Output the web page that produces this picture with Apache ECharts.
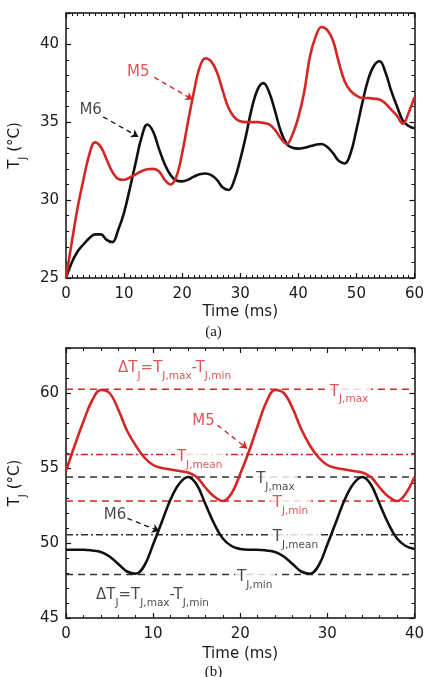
<!DOCTYPE html>
<html>
<head>
<meta charset="utf-8">
<script src="https://cdn.jsdelivr.net/npm/echarts@6/dist/echarts.min.js"></script>
<style>
html, body { margin: 0; padding: 0; background: #fff; }
#chart { width: 427px; height: 677px; }
</style>
</head>
<body>
<div id="chart"></div>
<script>
// (a) start-up, 0-60 ms
const timeA = [0,1,2,3,4,5,6,7,8,9,10,11,12,13,14,15,16,17,18,19,20,21,22,23,24,25,26,27,28,29,30,
  31,32,33,34,35,36,37,38,39,40,41,42,43,44,45,46,47,48,49,50,51,52,53,54,55,56,57,58,59,60];
const m5A = [25.0,27.3,29.5,31.3,32.9,33.7,33.4,32.6,31.8,31.35,31.3,31.45,31.65,31.85,31.97,32.0,31.85,31.3,31.0,31.5,
  33.0,35.0,36.9,38.5,39.1,38.9,38.2,37.0,35.9,35.3,35.05,35.0,35.0,35.0,34.95,34.85,34.5,33.95,33.6,34.2,
  35.3,36.9,39.2,40.5,41.1,40.9,40.2,38.8,37.6,37.0,36.7,36.55,36.55,36.5,36.45,36.2,35.8,35.4,34.9,35.6,36.6];
const m6A = [25.0,26.0,26.7,27.15,27.55,27.8,27.8,27.45,27.3,28.1,29.2,30.75,32.4,34.0,34.85,34.4,33.3,32.3,31.6,31.25,
  31.2,31.3,31.5,31.65,31.7,31.6,31.3,30.8,30.65,31.3,32.6,34.15,35.9,37.1,37.5,36.9,35.7,34.4,33.6,33.35,
  33.3,33.35,33.45,33.55,33.6,33.4,33.0,32.5,32.35,33.0,34.5,36.2,37.7,38.6,38.9,38.2,37.0,36.0,35.1,34.75,34.6];

// (b) steady state, 0-40 ms
const timeB = [0,1,2,3,4,5,6,7,8,9,10,11,12,13,14,15,16,17,18,19,20,
  21,22,23,24,25,26,27,28,29,30,31,32,33,34,35,36,37,38,39,40];
const m5B = [54.8,56.5,58.1,59.5,60.2,60.0,58.9,57.5,56.5,55.7,55.2,55.0,54.9,54.8,54.7,54.4,53.7,53.1,52.8,53.3,
  54.6,56.1,57.8,59.4,60.2,60.0,59.0,57.6,56.5,55.7,55.2,55.0,54.9,54.8,54.7,54.4,53.7,53.1,52.8,53.3,54.4];
const m6B = [49.55,49.55,49.55,49.5,49.4,49.1,48.6,48.1,47.95,48.5,49.9,51.4,52.9,53.95,54.4,53.9,52.6,51.3,50.3,49.8,
  49.6,49.55,49.55,49.5,49.4,49.1,48.6,48.1,47.95,48.5,49.9,51.4,52.9,53.95,54.4,53.9,52.6,51.3,50.3,49.8,49.6];

// T_J levels in (b): max, mean, min
const levelSub = ['J,max', 'J,mean', 'J,min'];
const m5Level = [60.25, 55.9, 52.8];
const m6Level = [54.4, 50.55, 47.9];

const FONT = 'DejaVu Sans';
const RED = '#d42626';
const RED_TXT = '#d42a2a';
const BLK = '#111';
const BLK_TXT = '#1a1a1a';

var myChart = echarts.init(document.getElementById('chart'));

function rich(color) {
  return {
    T: { fontSize: 15, fontFamily: FONT, color: color, lineHeight: 16, verticalAlign: 'top' },
    s: { fontSize: 10.5, fontFamily: FONT, color: color, lineHeight: 11, verticalAlign: 'top', padding: [10, 0, 0, 0] },
    m: { fontSize: 15, fontFamily: FONT, color: color, lineHeight: 18 }
  };
}

function xAx(grid, max, minorSplit, top) {
  return {
    gridIndex: grid, type: 'value', min: 0, max: max, interval: 10,
    position: top ? 'top' : 'bottom',
    name: top ? '' : 'Time (ms)', nameLocation: 'middle', nameGap: grid === 0 ? 27 : 29,
    nameTextStyle: { fontFamily: FONT, fontSize: 15, color: BLK_TXT },
    axisLine: { show: true, onZero: false, lineStyle: { color: BLK, width: 1.5 } },
    axisTick: { show: true, inside: true, length: 5, lineStyle: { color: BLK, width: 1.2 } },
    minorTick: { show: true, splitNumber: minorSplit, length: 3, lineStyle: { color: BLK, width: 1 } },
    axisLabel: { show: !top, fontFamily: FONT, fontSize: 15, color: BLK_TXT, margin: 9 },
    splitLine: { show: false }
  };
}

function yAx(grid, min, max, right) {
  return {
    gridIndex: grid, type: 'value', min: min, max: max, interval: 5,
    position: right ? 'right' : 'left',
    name: right ? '' : '{T|T}{s|J}{T| (°C)}', nameLocation: 'middle', nameRotate: 90, nameGap: 35,
    nameTextStyle: { rich: rich(BLK_TXT) },
    axisLine: { show: true, onZero: false, lineStyle: { color: BLK, width: 1.5 } },
    axisTick: { show: true, inside: true, length: 5, lineStyle: { color: BLK, width: 1.2 } },
    minorTick: { show: true, splitNumber: 5, length: 3, lineStyle: { color: BLK, width: 1 } },
    axisLabel: { show: !right, fontFamily: FONT, fontSize: 15, color: BLK_TXT, margin: 7, showMaxLabel: false },
    splitLine: { show: false }
  };
}

function curve(name, xs, ys, color, axis) {
  return {
    name: name, type: 'line', xAxisIndex: axis, yAxisIndex: axis,
    data: xs.map((t, i) => [t, ys[i]]),
    smooth: 0.4, symbol: 'none', silent: true,
    lineStyle: { color: color, width: 2.6 }, z: 3
  };
}

function level(v, color, dotted) {
  return {
    type: 'line', xAxisIndex: 2, yAxisIndex: 2,
    data: [[timeB[0], v], [timeB[timeB.length - 1], v]],
    symbol: 'none', silent: true, z: 2,
    lineStyle: { color: color, width: 1.5, type: dotted ? [7, 3, 2, 3] : [7, 5] }
  };
}

// text item: T left edge / text centre at the given point
function tag(t, y, fmt, color, bg) {
  return {
    value: [t, y],
    label: {
      formatter: fmt, color: color, rich: rich(color),
      backgroundColor: bg ? '#fff' : 'transparent',
      padding: bg ? [0, 3, 0, 2] : 0,
      offset: fmt.indexOf('{s|') >= 0 ? [0, 3] : [0, 0]
    }
  };
}

function arrow(p, q, color) {
  return [
    { coord: p, symbol: 'none', lineStyle: { color: color, width: 1.3, type: [5, 4] } },
    { coord: q, symbol: 'arrow' }
  ];
}

function notes(axis, items, arrows) {
  return {
    type: 'scatter', xAxisIndex: axis, yAxisIndex: axis,
    symbolSize: 0.1, itemStyle: { color: 'transparent' }, silent: true, z: 6,
    label: { show: true, position: 'right', distance: 0 },
    data: items,
    markLine: { silent: true, symbolSize: 7, label: { show: false }, data: arrows }
  };
}

const levelFmt = levelSub.map(s => '{T|T}{s|' + s + '}');
const dtFmt = '{T|ΔT}{s|J}{T|=T}{s|J,max}{T|-T}{s|J,min}';

myChart.setOption({
  animation: false,
  backgroundColor: '#fff',
  title: [
    { text: '(a)', left: 'center', top: 325, padding: 0,
      textStyle: { fontFamily: 'Liberation Serif', fontSize: 15, fontWeight: 'normal', color: BLK_TXT } },
    { text: '(b)', left: 'center', top: 665, padding: 0,
      textStyle: { fontFamily: 'Liberation Serif', fontSize: 15, fontWeight: 'normal', color: BLK_TXT } }
  ],
  grid: [
    { left: 56, right: 6, top: 13, height: 265 },
    { left: 53, right: 5, top: 348, height: 270 }
  ],
  xAxis: [xAx(0, 60, 10, false), xAx(0, 60, 10, true), xAx(1, 40, 5, false), xAx(1, 40, 5, true)],
  yAxis: [yAx(0, 25, 42, false), yAx(0, 25, 42, true), yAx(1, 45, 63, false), yAx(1, 45, 63, true)],
  series: [
    curve('M6', timeA, m6A, BLK, 0),
    curve('M5', timeA, m5A, RED, 0),
    level(m5Level[0], RED, false), level(m5Level[1], RED, true), level(m5Level[2], RED, false),
    level(m6Level[0], '#333', false), level(m6Level[1], '#333', true), level(m6Level[2], '#333', false),
    curve('M6', timeB, m6B, BLK, 2),
    curve('M5', timeB, m5B, RED, 2),
    notes(0, [
      tag(10.5, 38.2, '{m|M5}', RED_TXT, false),
      tag(2.3, 35.77, '{m|M6}', BLK_TXT, false)
    ], [
      arrow([15.2, 37.87], [21.8, 36.45], RED),
      arrow([6.4, 35.34], [12.45, 34.06], BLK)
    ]),
    notes(2, [
      tag(14.5, 58.13, '{m|M5}', RED_TXT, false),
      tag(4.34, 51.86, '{m|M6}', BLK_TXT, false),
      tag(5.97, 61.8, dtFmt, RED_TXT, false),
      tag(3.44, 46.66, dtFmt, BLK_TXT, false),
      tag(30.05, m5Level[0], levelFmt[0], RED_TXT, true),
      tag(12.5, m5Level[1], levelFmt[1], RED_TXT, true),
      tag(23.5, m5Level[2], levelFmt[2], RED_TXT, true),
      tag(21.6, m6Level[0], levelFmt[0], BLK_TXT, true),
      tag(23.5, m6Level[1], levelFmt[1], BLK_TXT, true),
      tag(19.4, m6Level[2], levelFmt[2], BLK_TXT, true)
    ], [
      arrow([17.4, 57.85], [20.8, 56.3], RED),
      arrow([7.06, 51.64], [10.7, 50.8], BLK)
    ])
  ]
});

window.addEventListener('resize', function () {
  myChart.resize();
});
</script>
</body>
</html>
